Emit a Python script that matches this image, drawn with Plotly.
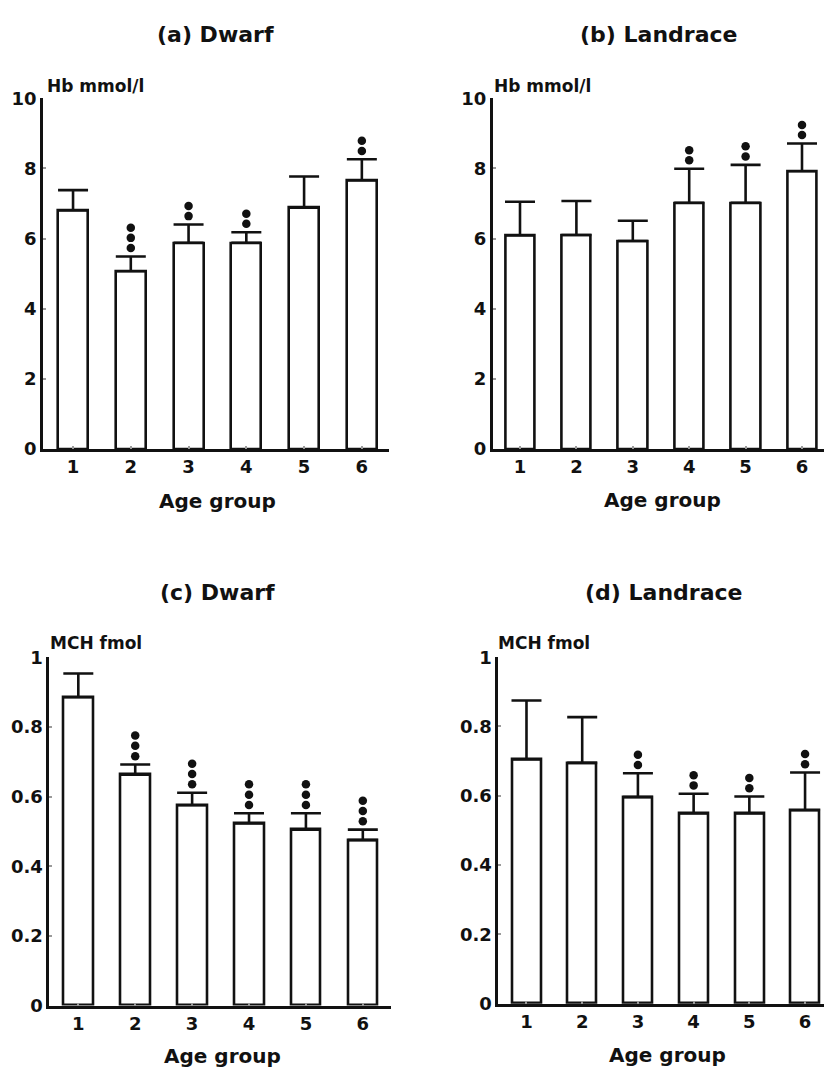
import plotly.graph_objects as go

# Age groups on the x axis
age_groups = [1, 2, 3, 4, 5, 6]

# Haemoglobin (mmol/l): mean and upper SD, number of significance marks
hb_dwarf = [6.80, 5.07, 5.88, 5.88, 6.88, 7.66]
hb_dwarf_sd = [0.58, 0.42, 0.52, 0.30, 0.89, 0.60]
hb_dwarf_sig = [0, 3, 2, 2, 0, 2]

hb_landrace = [6.09, 6.10, 5.93, 7.02, 7.02, 7.92]
hb_landrace_sd = [0.96, 0.97, 0.58, 0.97, 1.08, 0.79]
hb_landrace_sig = [0, 0, 0, 2, 2, 2]

# Mean corpuscular haemoglobin (fmol)
mch_dwarf = [0.885, 0.663, 0.575, 0.523, 0.505, 0.475]
mch_dwarf_sd = [0.068, 0.029, 0.036, 0.029, 0.047, 0.030]
mch_dwarf_sig = [0, 3, 3, 3, 3, 3]

mch_landrace = [0.705, 0.695, 0.596, 0.549, 0.549, 0.558]
mch_landrace_sd = [0.170, 0.132, 0.069, 0.057, 0.049, 0.109]
mch_landrace_sig = [0, 0, 2, 2, 2, 2]

W, H = 824, 1081
FONT = "DejaVu Sans"
BLACK = "#111111"


def px_x(p):
    return p / W


def px_y(p):
    return 1 - p / H


fig = go.Figure()

panels = [
    dict(key="", mean=hb_dwarf, sd=hb_dwarf_sd, sig=hb_dwarf_sig,
         xdom=(43, 389), ydom=(446.7, 89), xr=(0.48, 6.47), yr=(0, 10), dt=2,
         title="(a) Dwarf", tpos=(215, 24), ylab="Hb mmol/l", lpos=(45, 76),
         apos=(217, 500), dot0=0.24, dstep=0.29),
    dict(key="2", mean=hb_landrace, sd=hb_landrace_sd, sig=hb_landrace_sig,
         xdom=(492.7, 824), ydom=(446.7, 89), xr=(0.516, 6.39), yr=(0, 10), dt=2,
         title="(b) Landrace", tpos=(658, 24), ylab="Hb mmol/l", lpos=(492, 76),
         apos=(662, 499), dot0=0.24, dstep=0.29),
    dict(key="3", mean=mch_dwarf, sd=mch_dwarf_sd, sig=mch_dwarf_sig,
         xdom=(49.3, 390.7), ydom=(1014.3, 659), xr=(0.49, 6.49), yr=(0, 1), dt=0.2,
         title="(c) Dwarf", tpos=(217, 593), ylab="MCH fmol", lpos=(48, 645),
         apos=(222, 1066), dot0=0.024, dstep=0.0295),
    dict(key="4", mean=mch_landrace, sd=mch_landrace_sd, sig=mch_landrace_sig,
         xdom=(498.3, 824), ydom=(1012.3, 659), xr=(0.494, 6.34), yr=(0, 1), dt=0.2,
         title="(d) Landrace", tpos=(663, 593), ylab="MCH fmol", lpos=(496, 645),
         apos=(667, 1065), dot0=0.024, dstep=0.0295),
]

annotations = []
layout_axes = {}
tick_font = dict(family=FONT, size=18, color=BLACK, weight="bold")

for p in panels:
    xa = "x" + p["key"]
    ya = "y" + p["key"]
    fig.add_trace(go.Bar(
        x=age_groups, y=p["mean"], xaxis=xa, yaxis=ya, width=0.52,
        marker=dict(color="white", line=dict(color=BLACK, width=2.6)),
        error_y=dict(type="data", array=p["sd"], arrayminus=[0] * 6,
                     symmetric=False, color=BLACK, thickness=2.6, width=15),
        showlegend=False, hoverinfo="skip",
    ))
    # significance dots stacked above each error bar
    dx, dy = [], []
    for g, m, s, n in zip(age_groups, p["mean"], p["sd"], p["sig"]):
        for k in range(n):
            dx.append(g)
            dy.append(m + s + p["dot0"] + k * p["dstep"])
    fig.add_trace(go.Scatter(
        x=dx, y=dy, xaxis=xa, yaxis=ya, mode="markers",
        marker=dict(color=BLACK, size=8.5, symbol="circle"),
        showlegend=False, hoverinfo="skip", cliponaxis=False,
    ))

    xname = "xaxis" + p["key"]
    yname = "yaxis" + p["key"]
    layout_axes[xname] = dict(
        domain=[px_x(p["xdom"][0]), min(1.0, px_x(p["xdom"][1]))],
        anchor=ya, range=list(p["xr"]), tickvals=age_groups,
        showline=True, linecolor=BLACK, linewidth=2.6,
        ticks="inside", ticklen=3, tickwidth=2, tickcolor="#9a9a9a",
        ticklabelstandoff=0,
        tickfont=tick_font,
        showgrid=False, zeroline=False, fixedrange=True,
    )
    layout_axes[yname] = dict(
        domain=[px_y(p["ydom"][0]), px_y(p["ydom"][1])],
        anchor=xa, range=list(p["yr"]), dtick=p["dt"], tick0=0,
        showline=True, linecolor=BLACK, linewidth=2.6,
        ticks="inside", ticklen=3, tickwidth=2, tickcolor="#9a9a9a",
        tickfont=tick_font,
        showgrid=False, zeroline=False, fixedrange=True,
    )

    annotations.append(dict(
        text="<b>" + p["title"] + "</b>", xref="paper", yref="paper",
        x=px_x(p["tpos"][0]), y=px_y(p["tpos"][1]), xanchor="center",
        yanchor="middle", showarrow=False,
        font=dict(family=FONT, size=22, color=BLACK),
    ))
    annotations.append(dict(
        text="<b>" + p["ylab"] + "</b>", xref="paper", yref="paper",
        x=px_x(p["lpos"][0]), y=px_y(p["lpos"][1]), xanchor="left",
        yanchor="middle", showarrow=False,
        font=dict(family=FONT, size=17, color=BLACK),
    ))
    annotations.append(dict(
        text="<b>Age group</b>", xref="paper", yref="paper",
        x=px_x(p["apos"][0]), y=px_y(p["apos"][1]), xanchor="center",
        yanchor="middle", showarrow=False,
        font=dict(family=FONT, size=20, color=BLACK),
    ))

fig.update_layout(
    width=W, height=H, margin=dict(l=0, r=0, t=0, b=0),
    paper_bgcolor="white", plot_bgcolor="white",
    annotations=annotations, bargap=0, **layout_axes,
)

fig.write_html("out.html")
